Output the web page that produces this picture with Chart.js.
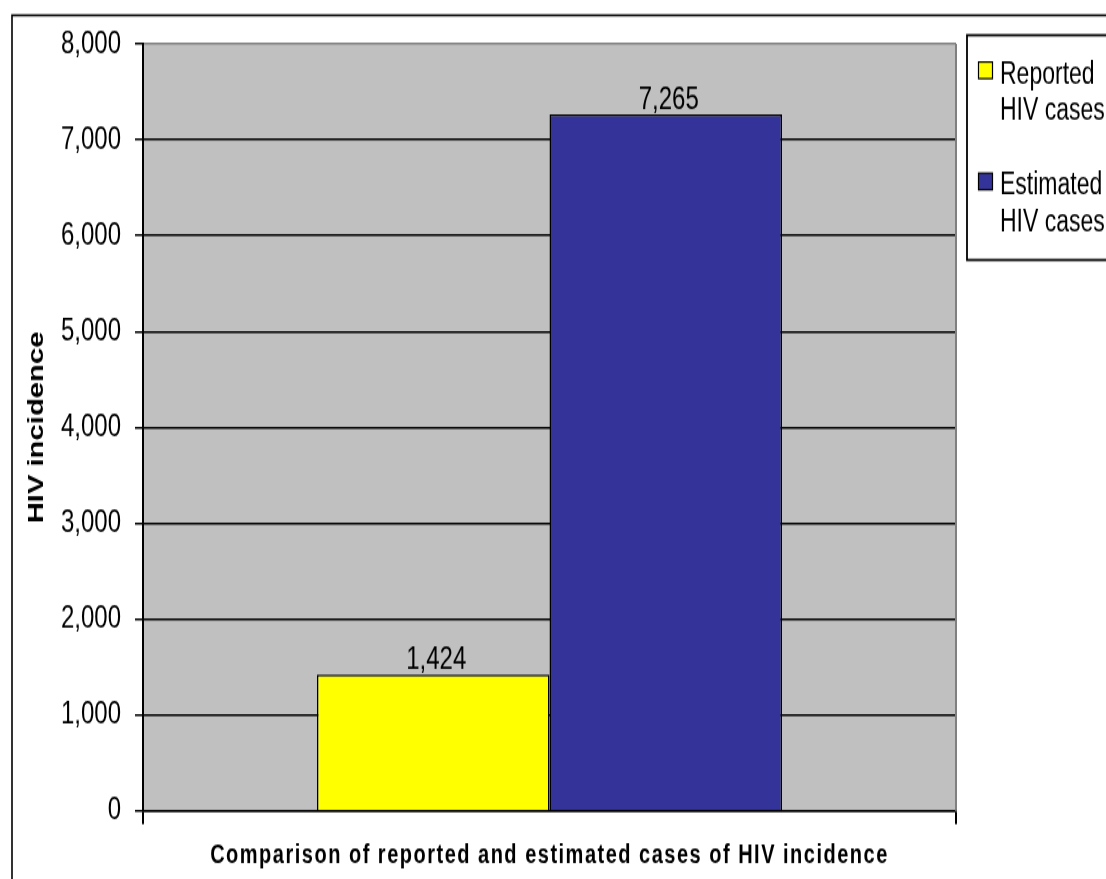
<!DOCTYPE html>
<html>
<head>
<meta charset="utf-8">
<title>HIV incidence</title>
<script src="https://cdn.jsdelivr.net/npm/chart.js@4/dist/chart.umd.min.js"></script>
<style>
  html, body { margin: 0; padding: 0; background: #fff; overflow: hidden; }
  /* The drawing is laid out at a reduced height and stretched vertically,
     which gives the tall, narrow lettering of the original workbook export. */
  #frame {
    position: absolute; left: 0; top: 0;
    width: 1106px; height: 661px;
    transform: scaleY(1.3298);
    transform-origin: 0 0;
  }
</style>
</head>
<body>
<div id="frame"><canvas id="chart"></canvas></div>
<script>
// ---- data ----
const categories = ['Comparison of reported and estimated cases of HIV incidence'];
const seriesNames = ['Reported HIV cases', 'Estimated HIV cases'];
const reportedValues = [1424];
const estimatedValues = [7265];
const seriesColors = ['#FFFF00', '#333399'];
const yAxisTitle = 'HIV incidence';
const xAxisTitle = 'Comparison of reported and estimated cases of HIV incidence';
const yMin = 0;
const yMax = 8000;
const yStep = 1000;

const FONT = '"Liberation Sans", Arial, sans-serif';
Chart.defaults.font.family = FONT;
Chart.defaults.color = '#000';

const fmt = v => Number(v).toLocaleString('en-US');

// Outer chart frame and the grey plot-area outline (right edge)
const framePlugin = {
  id: 'frame',
  beforeDraw(chart) {
    const c = chart.ctx;
    c.save();
    c.strokeStyle = '#000';
    c.lineWidth = 1.6;
    c.strokeRect(12, 11.5, 1300, 900);
    c.restore();
  },
  afterDatasetsDraw(chart) {
    const a = chart.chartArea;
    const c = chart.ctx;
    c.save();
    c.strokeStyle = '#808080';
    c.lineWidth = 2;
    c.beginPath();
    c.moveTo(a.right, a.top);
    c.lineTo(a.right, a.bottom);
    c.stroke();
    c.restore();
  }
};

// Plot background
const plotBgPlugin = {
  id: 'plotBg',
  beforeDraw(chart) {
    const a = chart.chartArea;
    const c = chart.ctx;
    c.save();
    c.fillStyle = '#C0C0C0';
    c.fillRect(a.left, a.top, a.right - a.left, a.bottom - a.top);
    c.restore();
  }
};

// Value labels above each bar
const valueLabelPlugin = {
  id: 'valueLabels',
  afterDatasetsDraw(chart) {
    const c = chart.ctx;
    c.save();
    c.font = '24px ' + FONT;
    c.fillStyle = '#000';
    c.textAlign = 'center';
    c.textBaseline = 'alphabetic';
    chart.data.datasets.forEach((ds, i) => {
      const meta = chart.getDatasetMeta(i);
      meta.data.forEach((bar, j) => {
        c.fillText(fmt(ds.data[j]), bar.x + 3, bar.y - 4);
      });
    });
    c.restore();
  }
};

// Category-axis caption, slightly letter-spaced, centred under the plot
const xTitlePlugin = {
  id: 'xTitle',
  afterDraw(chart) {
    const a = chart.chartArea;
    const c = chart.ctx;
    c.save();
    c.font = 'bold 20px ' + FONT;
    if ('letterSpacing' in c) c.letterSpacing = '1.5px';
    c.fillStyle = '#000';
    c.textAlign = 'center';
    c.textBaseline = 'middle';
    c.fillText(xAxisTitle, (a.left + a.right) / 2, 643.5);
    c.restore();
  }
};

// Boxed legend on the right, each name wrapped onto two lines
const legendBoxPlugin = {
  id: 'legendBox',
  afterDraw(chart) {
    const c = chart.ctx;
    const boxX = 967, boxY = 26.5, boxBottom = 195.5;
    c.save();
    c.strokeStyle = '#000';
    c.lineWidth = 1.8;
    c.strokeRect(boxX, boxY, 400, boxBottom - boxY);
    const itemTops = [46.6, 130.2];
    chart.data.datasets.forEach((ds, i) => {
      const top = itemTops[i];
      c.fillStyle = ds.backgroundColor;
      c.fillRect(978.5, top, 14, 12.5);
      c.lineWidth = 1.2;
      c.strokeStyle = '#000';
      c.strokeRect(978.5, top, 14, 12.5);
      const words = ds.label.split(' ');
      const lines = [words[0], words.slice(1).join(' ')];
      c.font = '23px ' + FONT;
      c.fillStyle = '#000';
      c.textAlign = 'left';
      c.textBaseline = 'alphabetic';
      c.fillText(lines[0], 1000, top + 16);
      c.fillText(lines[1], 1000, top + 43.5);
    });
    c.restore();
  }
};

new Chart(document.getElementById('chart'), {
  type: 'bar',
  data: {
    labels: categories,
    datasets: [
      {
        label: seriesNames[0],
        data: reportedValues,
        backgroundColor: seriesColors[0],
        borderColor: '#000',
        borderWidth: 1.5
      },
      {
        label: seriesNames[1],
        data: estimatedValues,
        backgroundColor: seriesColors[1],
        borderColor: '#000',
        borderWidth: 1.5
      }
    ]
  },
  options: {
    responsive: true,
    maintainAspectRatio: false,
    animation: false,
    events: [],
    datasets: {
      bar: { categoryPercentage: 0.572, barPercentage: 1.0 }
    },
    layout: { padding: { top: 33, right: 150, left: 0, bottom: 0 } },
    plugins: {
      legend: { display: false },
      tooltip: { enabled: false },
      title: { display: false }
    },
    scales: {
      x: {
        type: 'category',
        offset: true,
        afterFit(scale) { scale.height = 51.2; },
        grid: {
          display: true,
          drawOnChartArea: false,
          drawTicks: true,
          tickLength: 10,
          color: '#000',
          lineWidth: 2
        },
        border: { display: true, color: '#000', width: 1.6 },
        ticks: { display: false },
        title: { display: false }
      },
      y: {
        min: yMin,
        max: yMax,
        afterFit(scale) { scale.width = 143; },
        ticks: {
          stepSize: yStep,
          padding: 14,
          color: '#000',
          font: { size: 24, family: FONT },
          callback: v => fmt(v)
        },
        grid: {
          color: ctx => (ctx.tick && ctx.tick.value === yMax) ? '#808080' : '#000',
          tickColor: '#000',
          lineWidth: 1.5,
          tickLength: 8,
          drawTicks: true
        },
        border: { display: true, color: '#000', width: 2 },
        title: {
          display: true,
          text: yAxisTitle,
          font: { size: 22, weight: 'bold', family: FONT },
          color: '#000',
          padding: { top: 24, bottom: 0 }
        }
      }
    }
  },
  plugins: [plotBgPlugin, framePlugin, valueLabelPlugin, xTitlePlugin, legendBoxPlugin]
});
</script>
</body>
</html>
